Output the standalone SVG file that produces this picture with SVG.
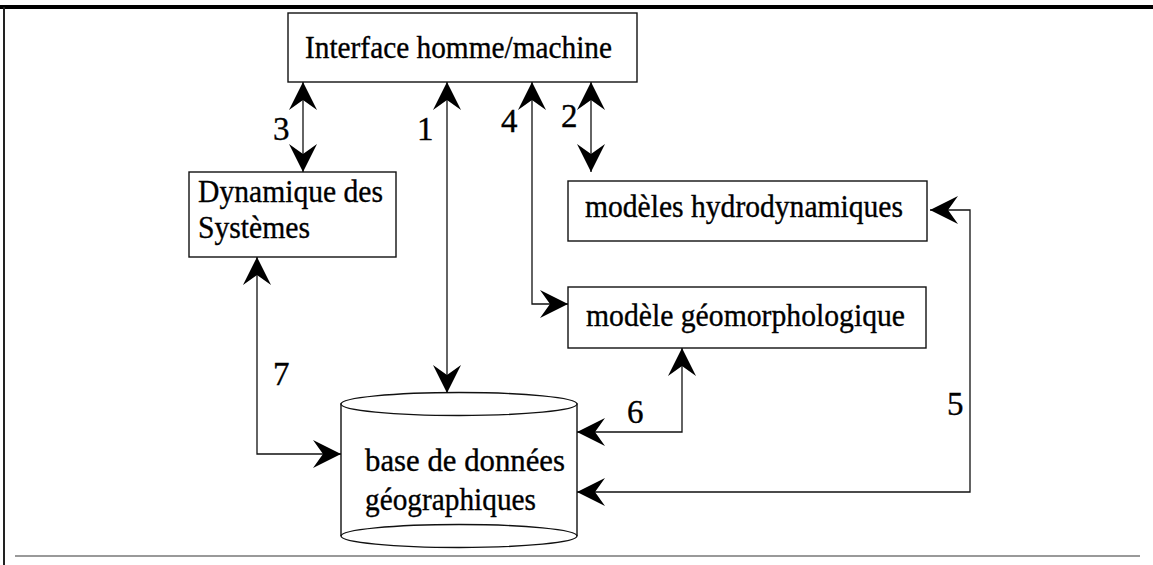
<svg xmlns="http://www.w3.org/2000/svg" width="1153" height="565" viewBox="0 0 1153 565">
<style>
.box{fill:#fff;stroke:#111;stroke-width:1.4}
.t{font-family:"Liberation Serif","Times New Roman",serif;font-size:32px;fill:#000;stroke:#000;stroke-width:0.35}
.n{font-family:"Liberation Serif","Times New Roman",serif;font-size:33px;fill:#000;stroke:#000;stroke-width:0.35}
.c{fill:none;stroke:#111;stroke-width:1.3}
</style>
<defs>
<marker id="ah" viewBox="0 0 28 28" refX="28" refY="14" markerWidth="28" markerHeight="28" markerUnits="userSpaceOnUse" orient="auto-start-reverse">
<path d="M28,14 L0,0 L10,14 L0,28 Z" fill="#000"/>
</marker>
</defs>
<rect width="1153" height="565" fill="#fff"/>
<g id="frame">
<line x1="0" y1="7" x2="1153" y2="7" stroke="#000" stroke-width="4"/>
<line x1="4" y1="7" x2="4" y2="565" stroke="#222" stroke-width="2"/>
<line x1="15" y1="556" x2="1140" y2="556" stroke="#999" stroke-width="2"/>
</g>
<g id="interface">
<rect class="box" x="288" y="13" width="349" height="69"/>
<text class="t" x="305" y="58" font-size="34" textLength="307" lengthAdjust="spacingAndGlyphs">Interface homme/machine</text>
</g>
<g id="dynamique">
<rect class="box" x="189" y="172" width="207" height="85"/>
<text class="t" x="198" y="202" textLength="185" lengthAdjust="spacingAndGlyphs">Dynamique des</text>
<text class="t" x="198" y="238" textLength="112" lengthAdjust="spacingAndGlyphs">Systèmes</text>
</g>
<g id="hydro">
<rect class="box" x="568" y="181" width="359" height="60"/>
<text class="t" x="585" y="217" textLength="318" lengthAdjust="spacingAndGlyphs">modèles hydrodynamiques</text>
</g>
<g id="geomorph">
<rect class="box" x="568" y="287" width="358" height="61"/>
<text class="t" x="586" y="326" textLength="319" lengthAdjust="spacingAndGlyphs">modèle géomorphologique</text>
</g>
<g id="base">
<path class="box" d="M341,404 L341,536 A118,11.5 0 0 0 577,536 L577,404 Z"/>
<ellipse cx="459" cy="404" rx="118" ry="11.5" fill="#fff" stroke="#111" stroke-width="1.4"/>
<path d="M341,536 A118,11.5 0 0 1 577,536" fill="none" stroke="#111" stroke-width="1.4"/>
<text class="t" x="365" y="471" textLength="200" lengthAdjust="spacingAndGlyphs">base de données</text>
<text class="t" x="365" y="510" textLength="171" lengthAdjust="spacingAndGlyphs">géographiques</text>
</g>
<g id="connectors">
<line class="c" x1="303" y1="82" x2="303" y2="172" marker-start="url(#ah)" marker-end="url(#ah)"/>
<line class="c" x1="447" y1="82" x2="447" y2="393" marker-start="url(#ah)" marker-end="url(#ah)"/>
<polyline class="c" points="532,82 532,304 568,304" marker-start="url(#ah)" marker-end="url(#ah)"/>
<line class="c" x1="591" y1="82" x2="591" y2="172" marker-start="url(#ah)" marker-end="url(#ah)"/>
<polyline class="c" points="930,210 970,210 970,492 577,492" marker-start="url(#ah)" marker-end="url(#ah)"/>
<polyline class="c" points="682,348 682,432 577,432" marker-start="url(#ah)" marker-end="url(#ah)"/>
<polyline class="c" points="257,257 257,454 341,454" marker-start="url(#ah)" marker-end="url(#ah)"/>
<text class="n" x="273" y="140">3</text>
<text class="n" x="417" y="140">1</text>
<text class="n" x="501" y="132">4</text>
<text class="n" x="561" y="127">2</text>
<text class="n" x="273" y="385">7</text>
<text class="n" x="627" y="423">6</text>
<text class="n" x="947" y="415">5</text>
</g>
</svg>
